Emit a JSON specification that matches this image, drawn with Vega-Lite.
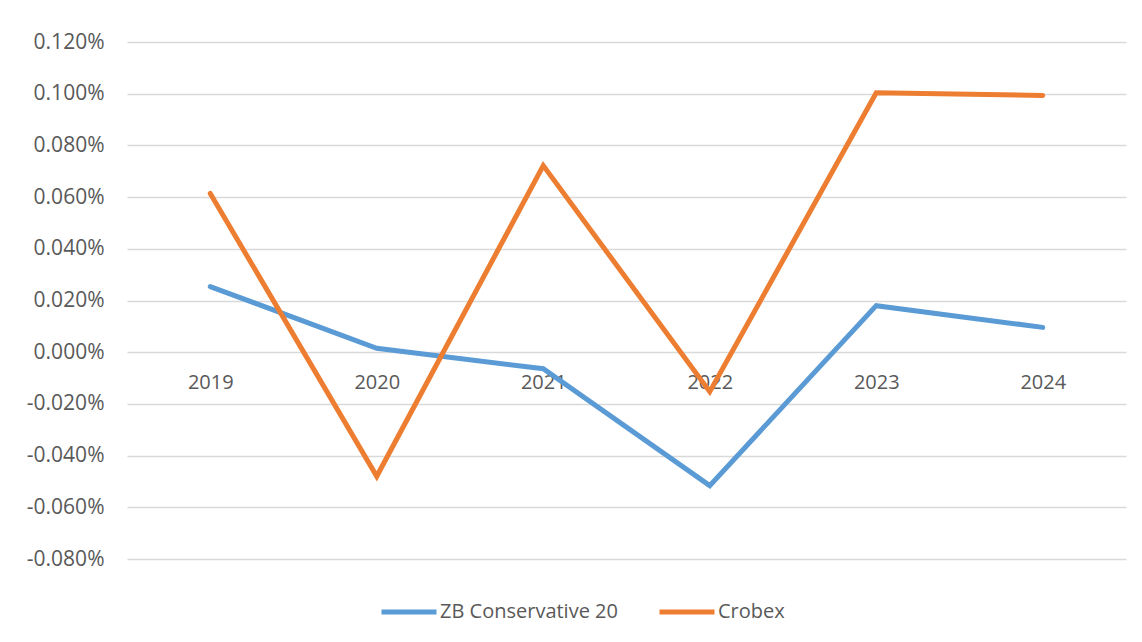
{
  "$schema": "https://vega.github.io/schema/vega-lite/v6.json",
  "width": 999,
  "height": 517,
  "autosize": {"type": "none"},
  "padding": {"left": 127, "top": 42, "right": 16, "bottom": 83},
  "background": "white",
  "config": {
    "view": {"stroke": null},
    "font": "Open Sans"
  },
  "data": {
    "values": [
      {"year": "2019", "series": "ZB Conservative 20", "value": 0.000254},
      {"year": "2020", "series": "ZB Conservative 20", "value": 0.000015},
      {"year": "2021", "series": "ZB Conservative 20", "value": -0.000064},
      {"year": "2022", "series": "ZB Conservative 20", "value": -0.000516},
      {"year": "2023", "series": "ZB Conservative 20", "value": 0.00018},
      {"year": "2024", "series": "ZB Conservative 20", "value": 0.000096},
      {"year": "2019", "series": "Crobex", "value": 0.000614},
      {"year": "2020", "series": "Crobex", "value": -0.00048},
      {"year": "2021", "series": "Crobex", "value": 0.000722},
      {"year": "2022", "series": "Crobex", "value": -0.000153},
      {"year": "2023", "series": "Crobex", "value": 0.001004},
      {"year": "2024", "series": "Crobex", "value": 0.000993}
    ]
  },
  "mark": {"type": "line", "strokeWidth": 5, "strokeCap": "round", "strokeJoin": "miter", "clip": false},
  "encoding": {
    "x": {
      "field": "year",
      "type": "ordinal",
      "scale": {"paddingInner": 0, "paddingOuter": 0.5},
      "axis": {
        "title": null,
        "orient": "bottom",
        "offset": -207,
        "domain": false,
        "ticks": false,
        "labelAngle": 0,
        "labelFontSize": 20,
        "labelColor": "#595959",
        "labelPadding": 20,
        "labelFont": "Open Sans"
      }
    },
    "y": {
      "field": "value",
      "type": "quantitative",
      "scale": {"domain": [-0.0008, 0.0012], "nice": false, "zero": false},
      "axis": {
        "title": null,
        "values": [-0.0008, -0.0006, -0.0004, -0.0002, 0, 0.0002, 0.0004, 0.0006, 0.0008, 0.001, 0.0012],
        "labelExpr": "replace(format(datum.value, '.3%'), '\u2212', '-')",
        "domain": false,
        "ticks": false,
        "grid": true,
        "gridColor": "#D9D9D9",
        "gridWidth": 1.3,
        "labelFontSize": 21,
        "labelColor": "#595959",
        "labelPadding": 23,
        "labelFont": "Open Sans"
      }
    },
    "color": {
      "field": "series",
      "type": "nominal",
      "scale": {"domain": ["ZB Conservative 20", "Crobex"], "range": ["#5B9BD5", "#ED7D31"]},
      "legend": {
        "title": null,
        "orient": "none",
        "direction": "horizontal",
        "legendX": 252,
        "legendY": 540,
        "symbolType": "stroke",
        "symbolSize": 3025,
        "symbolStrokeWidth": 5,
        "labelFontSize": 20,
        "labelColor": "#595959",
        "labelFont": "Open Sans",
        "labelLimit": 0,
        "labelOffset": 1,
        "columnPadding": 31
      }
    }
  }
}
